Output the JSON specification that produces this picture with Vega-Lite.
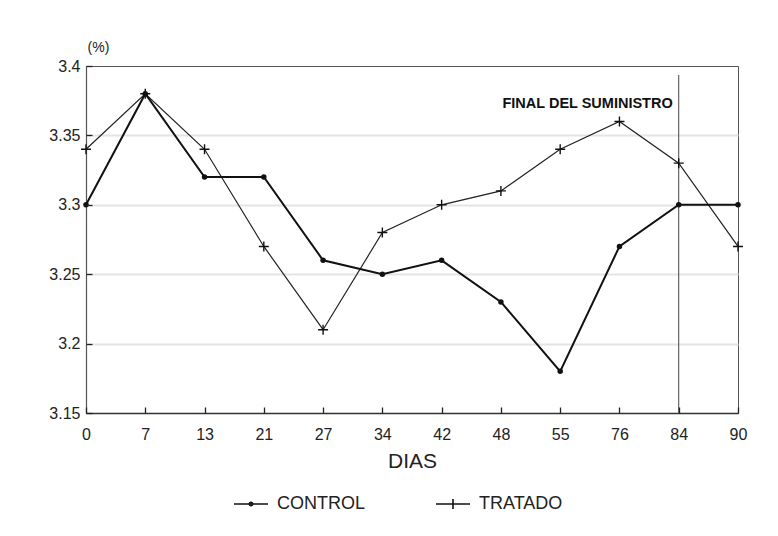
{
  "$schema": "https://vega.github.io/schema/vega-lite/v6.json",
  "autosize": "none",
  "width": 652,
  "height": 347,
  "padding": {"left": 86, "top": 66, "right": 40, "bottom": 123},
  "background": "white",
  "config": {
    "font": "Liberation Sans",
    "view": {"stroke": "#555", "strokeWidth": 1}
  },
  "data": {
    "values": [
      {"dia": 0, "serie": "CONTROL", "valor": 3.30},
      {"dia": 7, "serie": "CONTROL", "valor": 3.38},
      {"dia": 13, "serie": "CONTROL", "valor": 3.32},
      {"dia": 21, "serie": "CONTROL", "valor": 3.32},
      {"dia": 27, "serie": "CONTROL", "valor": 3.26},
      {"dia": 34, "serie": "CONTROL", "valor": 3.25},
      {"dia": 42, "serie": "CONTROL", "valor": 3.26},
      {"dia": 48, "serie": "CONTROL", "valor": 3.23},
      {"dia": 55, "serie": "CONTROL", "valor": 3.18},
      {"dia": 76, "serie": "CONTROL", "valor": 3.27},
      {"dia": 84, "serie": "CONTROL", "valor": 3.30},
      {"dia": 90, "serie": "CONTROL", "valor": 3.30},
      {"dia": 0, "serie": "TRATADO", "valor": 3.34},
      {"dia": 7, "serie": "TRATADO", "valor": 3.38},
      {"dia": 13, "serie": "TRATADO", "valor": 3.34},
      {"dia": 21, "serie": "TRATADO", "valor": 3.27},
      {"dia": 27, "serie": "TRATADO", "valor": 3.21},
      {"dia": 34, "serie": "TRATADO", "valor": 3.28},
      {"dia": 42, "serie": "TRATADO", "valor": 3.30},
      {"dia": 48, "serie": "TRATADO", "valor": 3.31},
      {"dia": 55, "serie": "TRATADO", "valor": 3.34},
      {"dia": 76, "serie": "TRATADO", "valor": 3.36},
      {"dia": 84, "serie": "TRATADO", "valor": 3.33},
      {"dia": 90, "serie": "TRATADO", "valor": 3.27}
    ]
  },
  "resolve": {"axis": {"x": "independent", "y": "independent"}},
  "layer": [
    {
      "encoding": {
        "x": {
          "field": "dia",
          "type": "ordinal",
          "scale": {"type": "point", "padding": 0, "domain": [0, 7, 13, 21, 27, 34, 42, 48, 55, 76, 84, 90]},
          "axis": {
            "orient": "bottom",
            "title": "DIAS",
            "titleFontSize": 21,
            "titleFontWeight": "normal",
            "titleColor": "#222",
            "titlePadding": 8,
            "labelAngle": 0,
            "labelFontSize": 16,
            "labelColor": "#222",
            "labelPadding": 13,
            "ticks": false,
            "domainColor": "#333",
            "domainWidth": 1.3,
            "grid": false
          }
        },
        "y": {
          "field": "valor",
          "type": "quantitative",
          "scale": {"domain": [3.15, 3.4], "nice": false, "zero": false},
          "axis": {
            "orient": "left",
            "title": "(%)",
            "titleAngle": 0,
            "titleX": 12,
            "titleY": -19,
            "titleAlign": "center",
            "titleBaseline": "middle",
            "titleFontSize": 14,
            "titleFontWeight": "normal",
            "titleColor": "#222",
            "values": [3.15, 3.2, 3.25, 3.3, 3.35, 3.4],
            "format": ".2~f",
            "labelFontSize": 16,
            "labelColor": "#222",
            "labelPadding": 6,
            "ticks": false,
            "domainColor": "#555",
            "domainWidth": 1.2,
            "grid": true,
            "gridWidth": 2,
            "gridColor": {"condition": {"test": "datum.value > 3.39 || datum.value < 3.16", "value": "transparent"}, "value": "#e4e4e4"}
          }
        }
      },
      "layer": [
        {
          "transform": [{"filter": "datum.dia === 84 && datum.serie === 'CONTROL'"}],
          "mark": {"type": "rule", "color": "#444", "strokeWidth": 1},
          "encoding": {
            "x": {"datum": 84, "type": "ordinal"},
            "y": {"datum": 3.3935},
            "y2": {"datum": 3.15}
          }
        },
        {
          "transform": [{"filter": "datum.dia === 84 && datum.serie === 'CONTROL'"}],
          "mark": {"type": "text", "text": "FINAL DEL SUMINISTRO", "align": "right", "baseline": "middle", "dx": -6, "fontSize": 14.5, "fontWeight": "bold", "color": "#111"},
          "encoding": {
            "x": {"datum": 84, "type": "ordinal"},
            "y": {"datum": 3.3725}
          }
        },
        {
          "transform": [{"filter": "datum.serie === 'TRATADO'"}],
          "mark": {"type": "line", "color": "#222", "strokeWidth": 1.2}
        },
        {
          "transform": [{"filter": "datum.serie === 'CONTROL'"}],
          "mark": {"type": "line", "color": "#111", "strokeWidth": 2}
        },
        {
          "transform": [{"filter": "datum.serie === 'TRATADO'"}],
          "mark": {"type": "point", "shape": "M-1,0H1M0,-1V1", "size": 100, "filled": false, "color": "#111", "strokeWidth": 1.4, "opacity": 1}
        },
        {
          "transform": [{"filter": "datum.serie === 'CONTROL'"}],
          "mark": {"type": "point", "shape": "circle", "size": 30, "filled": true, "color": "#111", "opacity": 1}
        },
        {
          "mark": {"type": "point", "filled": false, "color": "#111", "strokeWidth": 1.6, "opacity": 0},
          "encoding": {
            "shape": {
              "field": "serie",
              "type": "nominal",
              "scale": {
                "domain": ["CONTROL", "TRATADO"],
                "range": [
                  "M-1,0H1M-0.1,0A0.1,0.1,0,1,1,0.1,0A0.1,0.1,0,1,1,-0.1,0Z",
                  "M-1,0H1M0,-0.3V0.3"
                ]
              },
              "legend": {
                "title": null,
                "orient": "none",
                "direction": "horizontal",
                "legendX": 147,
                "legendY": 420,
                "padding": 0,
                "symbolSize": 1156,
                "symbolStrokeColor": "#111",
                "symbolStrokeWidth": 1.6,
                "symbolOpacity": 1,
                "labelFontSize": 18,
                "labelColor": "#222",
                "labelOffset": 8,
                "columnPadding": 66
              }
            }
          }
        }
      ]
    },
    {
      "mark": {"type": "point", "opacity": 0},
      "encoding": {
        "x": {
          "field": "dia",
          "type": "ordinal",
          "axis": {"orient": "bottom", "title": null, "labels": false, "domain": false, "grid": false, "ticks": true, "tickSize": 6, "tickWidth": 1.3, "tickColor": "#222", "tickOpacity": 1, "offset": -6, "zindex": 2}
        },
        "y": {
          "field": "valor",
          "type": "quantitative",
          "axis": {"orient": "left", "title": null, "labels": false, "domain": false, "grid": false, "ticks": true, "tickSize": 6, "tickWidth": 1.3, "tickColor": "#222", "tickOpacity": 1, "offset": -6, "zindex": 2, "values": [3.15, 3.2, 3.25, 3.3, 3.35, 3.4]}
        }
      }
    }
  ]
}
